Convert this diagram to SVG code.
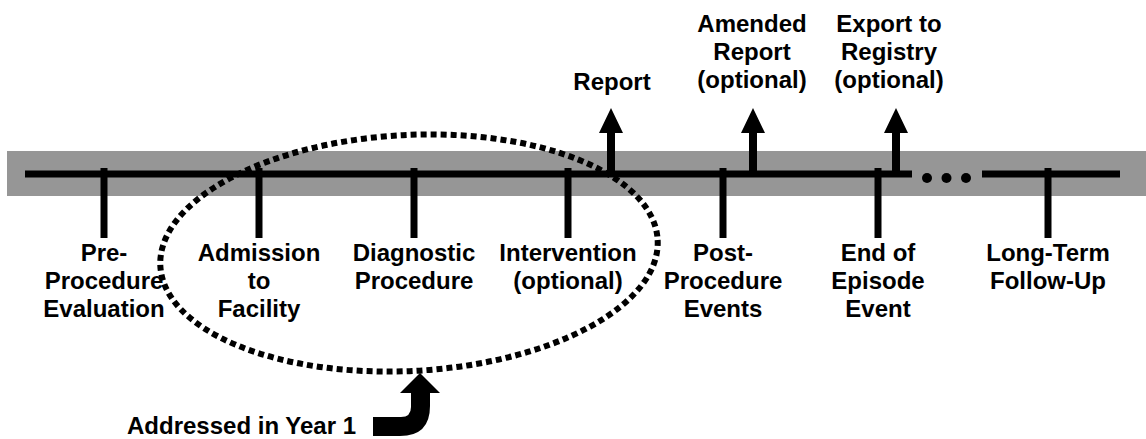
<svg xmlns="http://www.w3.org/2000/svg" width="1146" height="439" viewBox="0 0 1146 439">
<style>
.t{font-family:"Liberation Sans",Arial,sans-serif;font-weight:bold;font-size:24px;fill:#000;text-anchor:middle}
.tick{stroke:#000;stroke-width:7}
.up{fill:#000}
</style>
<rect x="7" y="151" width="1139" height="45" fill="#969696"/>
<g id="timeline">
<line x1="25" y1="174" x2="912" y2="174" stroke="#000" stroke-width="7"/>
<line x1="982" y1="174" x2="1120" y2="174" stroke="#000" stroke-width="7"/>
<circle cx="927" cy="178" r="5"/><circle cx="946.5" cy="178" r="5"/><circle cx="966" cy="178" r="5"/>
</g>
<g id="connectors">
<line class="tick" x1="104" y1="168" x2="104" y2="238"/>
<line class="tick" x1="259" y1="168" x2="259" y2="238"/>
<line class="tick" x1="414" y1="168" x2="414" y2="238"/>
<line class="tick" x1="568" y1="168" x2="568" y2="238"/>
<line class="tick" x1="723" y1="168" x2="723" y2="238"/>
<line class="tick" x1="878" y1="168" x2="878" y2="238"/>
<line class="tick" x1="1048" y1="168" x2="1048" y2="238"/>
<path class="up" d="M607,174 V133 H599 L611,108 L623,133 H615 V174 Z"/>
<path class="up" d="M749,174 V133 H741 L753,108 L765,133 H757 V174 Z"/>
<path class="up" d="M892,174 V133 H884 L896,108 L908,133 H900 V174 Z"/>
<path class="up" d="M373,417 H401 Q411,417 411,407 V393 H400 L420,373 L440,393 H430 V406 Q430,436 400,436 H373 Z"/>
</g>
<ellipse id="scope" cx="409" cy="253" rx="249" ry="118" transform="rotate(-3 409 253)" fill="none" stroke="#000" stroke-width="6" stroke-dasharray="6 4"/>
<g id="n-pre"><text class="t"><tspan x="104" y="261">Pre-</tspan><tspan x="104" y="289">Procedure</tspan><tspan x="104" y="317">Evaluation</tspan></text></g>
<g id="n-adm"><text class="t"><tspan x="259" y="261">Admission</tspan><tspan x="259" y="289">to</tspan><tspan x="259" y="317">Facility</tspan></text></g>
<g id="n-diag"><text class="t"><tspan x="414" y="261">Diagnostic</tspan><tspan x="414" y="289">Procedure</tspan></text></g>
<g id="n-int"><text class="t"><tspan x="568" y="261">Intervention</tspan><tspan x="568" y="289">(optional)</tspan></text></g>
<g id="n-post"><text class="t"><tspan x="723" y="261">Post-</tspan><tspan x="723" y="289">Procedure</tspan><tspan x="723" y="317">Events</tspan></text></g>
<g id="n-end"><text class="t"><tspan x="878" y="261">End of</tspan><tspan x="878" y="289">Episode</tspan><tspan x="878" y="317">Event</tspan></text></g>
<g id="n-ltf"><text class="t"><tspan x="1048" y="261">Long-Term</tspan><tspan x="1048" y="289">Follow-Up</tspan></text></g>
<g id="n-report"><text class="t"><tspan x="612" y="90">Report</tspan></text></g>
<g id="n-amend"><text class="t"><tspan x="752" y="32">Amended</tspan><tspan x="752" y="60">Report</tspan><tspan x="752" y="88">(optional)</tspan></text></g>
<g id="n-export"><text class="t"><tspan x="889" y="32">Export to</tspan><tspan x="889" y="60">Registry</tspan><tspan x="889" y="88">(optional)</tspan></text></g>
<g id="n-year1"><text class="t" style="text-anchor:start"><tspan x="127" y="434">Addressed in Year 1</tspan></text></g>
</svg>
